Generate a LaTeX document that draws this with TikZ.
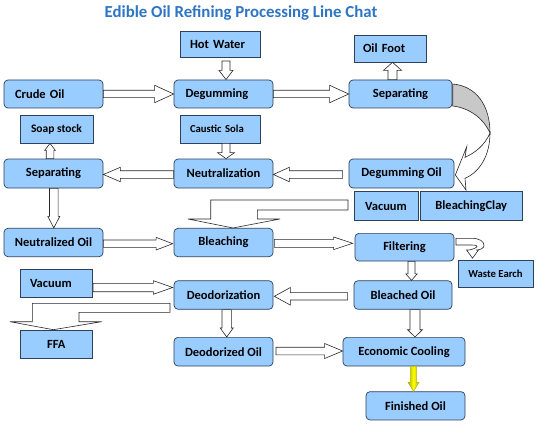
\documentclass[tikz,border=0pt]{standalone}
\usepackage{fontspec}
\setmainfont{Carlito}
\usetikzlibrary{calc}
\definecolor{boxfill}{RGB}{153,204,255}
\definecolor{boxline}{RGB}{45,65,90}
\definecolor{titleblue}{RGB}{46,117,196}
\definecolor{arrline}{RGB}{40,40,40}
\definecolor{bandgray}{RGB}{200,200,200}
\definecolor{olivey}{RGB}{175,175,0}
\newcommand{\mainfnt}{\fontsize{12.5}{14}\selectfont\bfseries}
\newcommand{\smallfnt}{\fontsize{10.7}{12}\selectfont\bfseries}
\newcommand{\soapfnt}{\fontsize{11.5}{13}\selectfont\bfseries}
\newcommand{\titlefnt}{\fontsize{16.8}{19}\selectfont\bfseries}
% block arrow: [opts]{from}{to}{shaft half}{head half}{head length}
\newcommand{\barrow}[6][]{%
  \draw[blockarrow,#1] ($(#2)!#4!-90:(#3)$) -- ($(#3)!#6!(#2)!#4!90:(#2)$)
    -- ($(#3)!#6!(#2)!#5!90:(#2)$) -- (#3) -- ($(#3)!#6!(#2)!#5!-90:(#2)$)
    -- ($(#3)!#6!(#2)!#4!-90:(#2)$) -- ($(#2)!#4!90:(#3)$) -- cycle;}
\tikzset{
  box/.style={draw=boxline, fill=boxfill, line width=0.7pt, inner sep=0pt, font=\mainfnt},
  rbox/.style={box, rounded corners=4pt},
  sbox/.style={box},
  wh/.style 2 args={minimum width=#1pt, minimum height=#2pt},
  lefttext/.style={text width=#1pt, align=left},
  blockarrow/.style={draw=arrline, fill=white, line width=0.6pt, line join=miter},
  yellowarrow/.style={draw=olivey, left color=olivey, right color=olivey, middle color=yellow, line width=0.5pt},
  bandstyle/.style={draw=arrline, fill=bandgray, line width=0.6pt},
  titlestyle/.style={text=titleblue, font=\titlefnt, inner sep=0pt}
}
\begin{document}
\begin{tikzpicture}[x=1pt,y=-1pt]
\fill[white] (0,0) rectangle (554,433);
\useasboundingbox (0,0) rectangle (554,433);

\node[titlestyle] (title) at (241,13) {Edible Oil Refining Processing Line Chat};

% boxes
\node[sbox, wh={80}{26}, lefttext=60] (hot) at (220,44) {Hot Water};
\node[sbox, wh={72}{27}, lefttext=54] (oilfoot) at (390,48.5) {Oil Foot};
\node[rbox, wh={99}{28}, lefttext=77] (crude) at (53.5,94) {Crude Oil};
\node[rbox, wh={99}{28}, lefttext=76] (degum) at (223.5,94) {Degumming};
\node[rbox, wh={103}{28}] (sep1) at (400.5,94) {Separating};
\node[sbox, wh={73}{28}, font=\soapfnt] (soap) at (56.5,129) {Soap stock};
\node[sbox, wh={80}{28}, lefttext=60, font=\smallfnt] (caustic) at (220,129) {Caustic Sola};
\node[rbox, wh={99}{29}] (sep2) at (53.5,173.5) {Separating};
\node[rbox, wh={99}{29}] (neut) at (223.5,173.5) {Neutralization};
\node[rbox, wh={105}{29}] (degoil) at (401.5,173.5) {Degumming Oil};
\node[sbox, wh={64}{29}] (vac1) at (386,206.2) {Vacuum};
\node[sbox, wh={101.5}{29}] (clay) at (471.25,206.2) {BleachingClay};
\node[rbox, wh={99}{28.4}] (neutoil) at (53.5,242.5) {Neutralized Oil};
\node[rbox, wh={99}{28.4}] (bleach) at (223.5,242.5) {Bleaching};
\node[rbox, wh={99}{27.7}] (filter) at (404.5,247.2) {Filtering};
\node[sbox, wh={75}{26.6}, font=\smallfnt] (waste) at (495.5,274) {Waste Earch};
\node[sbox, wh={72.6}{28}, lefttext=52.6] (vac2) at (56.3,283.3) {Vacuum};
\node[rbox, wh={99}{28.6}] (deodor) at (223.5,295) {Deodorization};
\node[rbox, wh={98}{28.6}] (bleachedoil) at (403,295) {Bleached Oil};
\node[sbox, wh={72.6}{28.3}] (ffa) at (56.3,344.2) {FFA};
\node[rbox, wh={99}{28.7}] (deodoil) at (223.5,351.7) {Deodorized Oil};
\node[rbox, wh={122}{28.7}] (cooling) at (404,351.7) {Economic Cooling};
\node[rbox, wh={99}{28.3}] (finished) at (415.5,405.8) {Finished Oil};

% connector end points
\coordinate (hotS) at ($(hot.south)+(6,3.7)$);
\coordinate (degumN) at ($(degum.north)+(2.5,0)$);
\coordinate (sep1N) at ($(sep1.north)+(-8,0)$);
\coordinate (oilfootS) at ($(oilfoot.south)+(2.5,0)$);
\coordinate (causticS) at ($(caustic.south)+(6,0)$);
\coordinate (neutN) at ($(neut.north)+(2.5,0)$);
\coordinate (sep2N) at ($(sep2.north)+(-3.5,0)$);
\coordinate (soapS) at ($(soap.south)+(-6.5,0)$);
\coordinate (neutW) at ($(neut.west)+(0,1)$);
\coordinate (sep2E) at ($(sep2.east)+(0,1)$);
\coordinate (degoilW) at ($(degoil.west)+(-6,1)$);
\coordinate (neutE) at ($(neut.east)+(0,1)$);
\coordinate (sep2S) at ($(sep2.south)+(0.3,0)$);
\coordinate (neutoilN) at ($(neutoil.north)+(0.3,0)$);
\coordinate (neutoilE) at ($(neutoil.east)+(0,1.2)$);
\coordinate (bleachW) at ($(bleach.west)+(-1,1.2)$);
\coordinate (bleachE) at ($(bleach.east)+(1,0.8)$);
\coordinate (filterW) at ($(filter.west)+(-2,-3.9)$);
\coordinate (filterS) at ($(filter.south)+(7,0)$);
\coordinate (bleachedN) at ($(bleachedoil.north)+(8.5,0)$);
\coordinate (vac2E) at ($(vac2.east)+(0,4.2)$);
\coordinate (deodorW) at ($(deodor.west)+(-1,-7.5)$);
\coordinate (bleachedW) at ($(bleachedoil.west)+(-6,1.3)$);
\coordinate (deodorE) at ($(deodor.east)+(1,1.3)$);
\coordinate (deodorS) at ($(deodor.south)+(3.2,0)$);
\coordinate (deodoilN) at ($(deodoil.north)+(3.2,0)$);
\coordinate (bleachedS) at ($(bleachedoil.south)+(12,0)$);
\coordinate (coolingN) at ($(cooling.north)+(11,0)$);
\coordinate (deodoilE) at ($(deodoil.east)+(2.6,-0.7)$);
\coordinate (coolingW) at ($(cooling.west)+(0,-0.7)$);
\coordinate (coolingS) at ($(cooling.south)+(9.5,0)$);
\coordinate (finishedN) at ($(finished.north)+(-2,0)$);
\coordinate (bleachTip) at ($(bleach.north)+(9.5,0)$);
\coordinate (ffaTip) at ($(ffa.north)+(-3,0)$);
\coordinate (wasteTip) at ($(waste.north)+(-23,-2.2)$);
\coordinate (degoilTip) at ($(degoil.east)+(1,1.5)$);

% straight block arrows
\barrow{crude.east}{degum.west}{3.7pt}{8.7pt}{19pt}
\barrow{degum.east}{sep1.west}{3.7pt}{8.7pt}{19pt}
\barrow{hotS}{degumN}{4pt}{7pt}{9.3pt}
\barrow{sep1N}{oilfootS}{4.5pt}{9pt}{8pt}
\barrow{causticS}{neutN}{4pt}{8.5pt}{6pt}
\barrow{sep2N}{soapS}{3.8pt}{5.3pt}{7pt}
\barrow{neutW}{sep2E}{3.8pt}{7.2pt}{17pt}
\barrow{degoilW}{neutE}{3.8pt}{7.2pt}{16pt}
\barrow{sep2S}{neutoilN}{4.3pt}{6pt}{11.6pt}
\barrow{neutoilE}{bleachW}{3.7pt}{6.3pt}{16.5pt}
\barrow{bleachE}{filterW}{4pt}{6.3pt}{19pt}
\barrow{filterS}{bleachedN}{3.5pt}{5.7pt}{6.5pt}
\barrow{vac2E}{deodorW}{4.2pt}{6.8pt}{19.3pt}
\barrow{bleachedW}{deodorE}{3.7pt}{8.8pt}{16pt}
\barrow{deodorS}{deodoilN}{4.7pt}{6.5pt}{9pt}
\barrow{bleachedS}{coolingN}{5pt}{7.5pt}{7.3pt}
\barrow{deodoilE}{coolingW}{3.8pt}{7.5pt}{18pt}
\barrow[yellowarrow]{coolingS}{finishedN}{2.8pt}{5.5pt}{9pt}

% bent arrow: Vacuum / BleachingClay -> Bleaching
\draw[blockarrow] (348,200) -- (210.7,200) -- (210.7,219) -- (188,219) -- (bleachTip)
  -- (280,219) -- (257.3,219) -- (257.3,210) -- (348,210) -- cycle;

% bent arrow: Deodorization -> FFA
\draw[blockarrow] (170,303.3) -- (32.3,303.3) -- (32.3,321.7) -- (10,321.7) -- (ffaTip)
  -- (101.7,321.7) -- (79,321.7) -- (79,312.3) -- (170,312.3) -- cycle;

% curved arrow: Separating -> Degumming Oil
\draw[bandstyle] (452.7,84) .. controls (476,86) and (490,105) .. (490,133)
  .. controls (484,119) and (470,108) .. (452.7,106) -- cycle;
\draw[blockarrow] (490,133) .. controls (490,155) and (480,172) .. (465,178.3)
  -- (466,190) -- (degoilTip) -- (466.7,146.7) -- (465,157.3)
  .. controls (475,153) and (485,145) .. (490,133) -- cycle;

% U-turn arrow: Filtering -> Waste Earch
\draw[blockarrow] (456,238.3) -- (472,238.3) .. controls (479.5,238.3) and (484,241.5) .. (484,245.3)
  .. controls (484,248) and (481,250) .. (476,250) -- (478.5,250) -- (wasteTip) -- (466.5,250)
  -- (469,250) .. controls (474,249) and (477,247.5) .. (477,246.2)
  .. controls (477,245.3) and (475,245) .. (472,245) -- (456,245) -- cycle;
\end{tikzpicture}
\end{document}
